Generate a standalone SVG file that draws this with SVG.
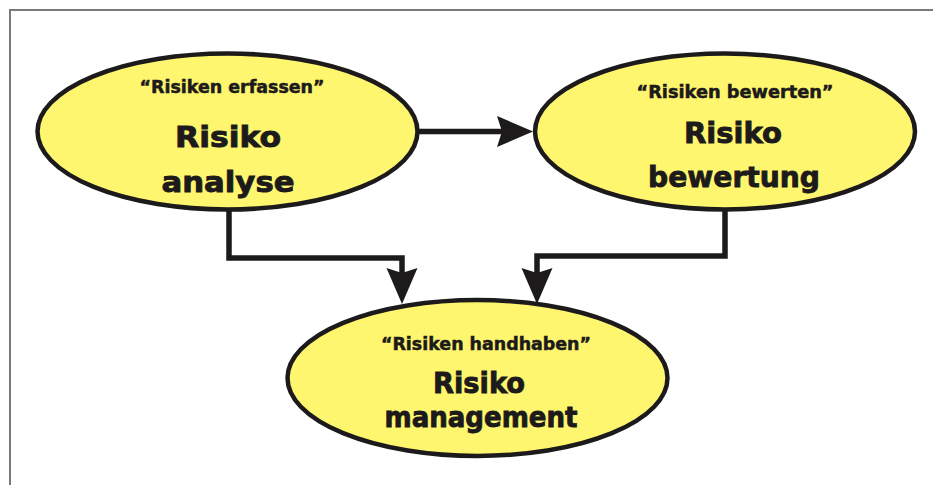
<svg xmlns="http://www.w3.org/2000/svg" xmlns:xlink="http://www.w3.org/1999/xlink" width="933" height="485" viewBox="0 0 933 485">
<style>
.node{fill:#fff66f;stroke:#1c1a1a;stroke-width:4.5}
.sub{font-family:"DejaVu Sans","Liberation Sans",sans-serif;font-weight:bold;font-size:17px;fill:#1c1a1a;stroke:#1c1a1a;stroke-width:0.5;text-anchor:middle}
.main{font-family:"DejaVu Sans","Liberation Sans",sans-serif;font-weight:bold;font-size:29px;fill:#1c1a1a;stroke:#1c1a1a;stroke-width:0.9;text-anchor:middle}
.conn{fill:none;stroke:#1c1a1a;stroke-width:5.5;stroke-linejoin:miter}
.head{fill:#1c1a1a}
.frame{fill:none;stroke:#7a7a7a;stroke-width:2}
</style>
<defs>
<path id="ah" d="M0,0 L-36,-15.5 L-31,0 L-36,15.5 Z"/>
</defs>
<rect width="933" height="485" fill="#ffffff"/>
<path class="frame" d="M10,485 L10,10 L933,10"/>
<g id="connectors">
<path class="conn" d="M418,131.5 L502,131.5"/>
<use xlink:href="#ah" class="head" transform="translate(533,131.5)"/>
<path class="conn" d="M229,209 L229,258 L402,258 L402,275"/>
<use xlink:href="#ah" class="head" transform="translate(402,304) rotate(90)"/>
<path class="conn" d="M725,209 L725,256 L537,256 L537,275"/>
<use xlink:href="#ah" class="head" transform="translate(537,304) rotate(90)"/>
</g>
<g id="risikoanalyse">
<ellipse class="node" cx="227.5" cy="131.5" rx="190" ry="78"/>
<text class="sub" x="232" y="93" textLength="185" lengthAdjust="spacingAndGlyphs">“Risiken erfassen”</text>
<text class="main" x="228" y="147" textLength="106" lengthAdjust="spacingAndGlyphs">Risiko</text>
<text class="main" x="228" y="192" textLength="133" lengthAdjust="spacingAndGlyphs">analyse</text>
</g>
<g id="risikobewertung">
<ellipse class="node" cx="725" cy="131.5" rx="190" ry="78"/>
<text class="sub" x="735" y="98" textLength="197" lengthAdjust="spacingAndGlyphs">“Risiken bewerten”</text>
<text class="main" x="733" y="143" textLength="98" lengthAdjust="spacingAndGlyphs">Risiko</text>
<text class="main" x="734" y="187" textLength="172" lengthAdjust="spacingAndGlyphs">bewertung</text>
</g>
<g id="risikomanagement">
<ellipse class="node" cx="477.5" cy="378" rx="190" ry="78"/>
<text class="sub" x="486" y="350" textLength="210" lengthAdjust="spacingAndGlyphs">“Risiken handhaben”</text>
<text class="main" x="479" y="393" textLength="92" lengthAdjust="spacingAndGlyphs">Risiko</text>
<text class="main" x="481" y="427" textLength="193" lengthAdjust="spacingAndGlyphs">management</text>
</g>
</svg>
